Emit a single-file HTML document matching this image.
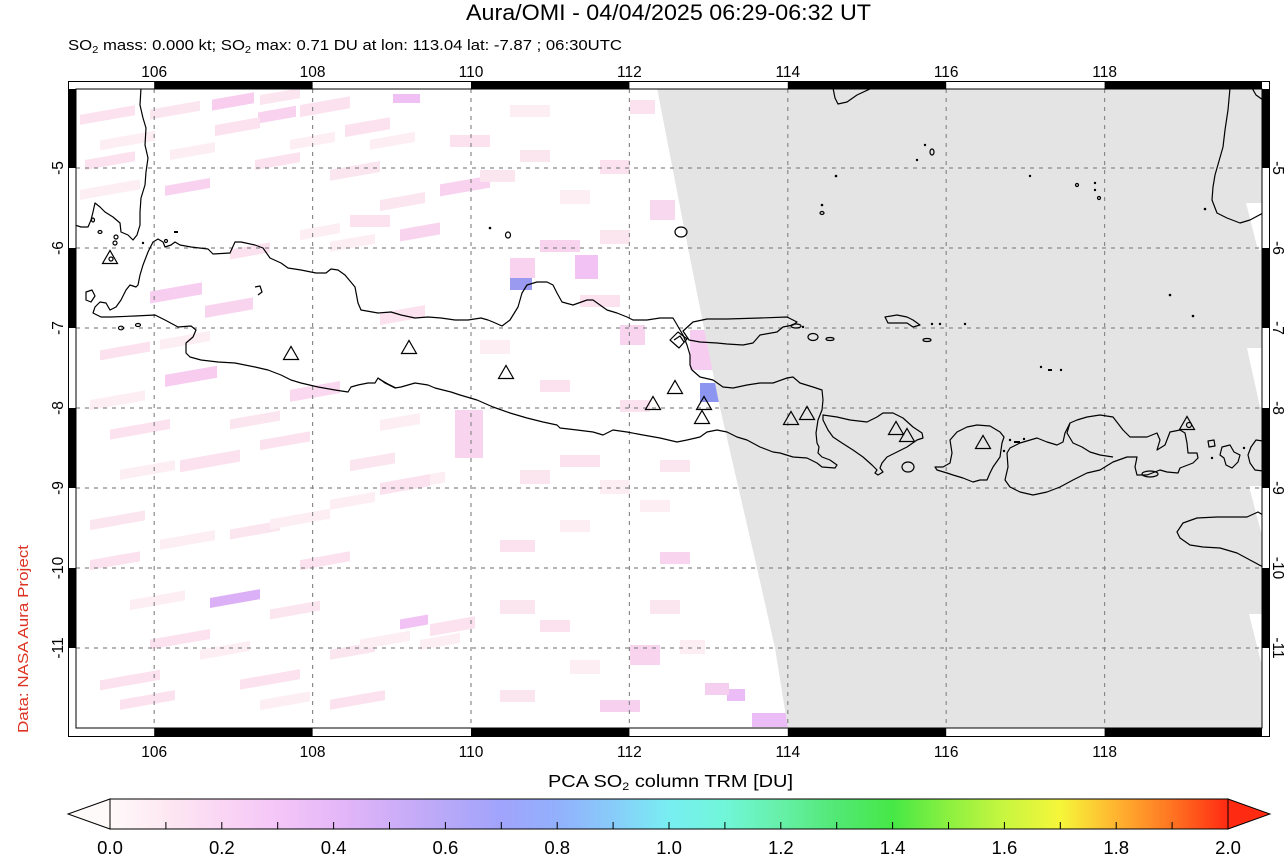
<!DOCTYPE html>
<html>
<head>
<meta charset="utf-8">
<style>
  html,body{margin:0;padding:0;background:#fff;}
  svg{display:block;}
  text{font-family:"Liberation Sans",Arial,Helvetica,sans-serif;}
</style>
</head>
<body>
<svg width="1288" height="855" viewBox="0 0 1288 855" xmlns="http://www.w3.org/2000/svg">
  <defs>
    <clipPath id="plot"><rect x="76" y="89" width="1186" height="639"/></clipPath>
    <linearGradient id="cb" gradientUnits="userSpaceOnUse" x1="110" y1="0" x2="1228" y2="0">
      <stop offset="0" stop-color="#fffafa"/>
      <stop offset="0.05" stop-color="#fde8f2"/>
      <stop offset="0.1" stop-color="#fad6f4"/>
      <stop offset="0.15" stop-color="#f4c6f8"/>
      <stop offset="0.2" stop-color="#e6b8f8"/>
      <stop offset="0.25" stop-color="#d0aef8"/>
      <stop offset="0.3" stop-color="#b8a8f8"/>
      <stop offset="0.35" stop-color="#a0a4fc"/>
      <stop offset="0.4" stop-color="#92b0fc"/>
      <stop offset="0.45" stop-color="#88ccfa"/>
      <stop offset="0.5" stop-color="#78eef2"/>
      <stop offset="0.55" stop-color="#70f6d8"/>
      <stop offset="0.6" stop-color="#66f0a8"/>
      <stop offset="0.65" stop-color="#52e874"/>
      <stop offset="0.7" stop-color="#46e846"/>
      <stop offset="0.75" stop-color="#8cf040"/>
      <stop offset="0.8" stop-color="#c8f640"/>
      <stop offset="0.85" stop-color="#f6f63a"/>
      <stop offset="0.9" stop-color="#ffb430"/>
      <stop offset="0.95" stop-color="#ff7422"/>
      <stop offset="1" stop-color="#ff2a12"/>
    </linearGradient>
  </defs>

  <!-- Frame band -->
  <rect x="68" y="81" width="1202" height="656" fill="#fff"/>
  <g fill="#000">
    <rect x="154.2" y="81" width="158.4" height="8"/>
    <rect x="471" y="81" width="158.4" height="8"/>
    <rect x="787.8" y="81" width="158.4" height="8"/>
    <rect x="1104.6" y="81" width="157.4" height="8"/>
    <rect x="154.2" y="728" width="158.4" height="9"/>
    <rect x="471" y="728" width="158.4" height="9"/>
    <rect x="787.8" y="728" width="158.4" height="9"/>
    <rect x="1104.6" y="728" width="157.4" height="9"/>
    <rect x="68" y="89" width="8" height="79"/>
    <rect x="68" y="248" width="8" height="80"/>
    <rect x="68" y="408" width="8" height="80"/>
    <rect x="68" y="568" width="8" height="80"/>
    <rect x="1262" y="89" width="8" height="79"/>
    <rect x="1262" y="248" width="8" height="80"/>
    <rect x="1262" y="408" width="8" height="80"/>
    <rect x="1262" y="568" width="8" height="80"/>
  </g>

  <!-- Plot area -->
  <g clip-path="url(#plot)">
    <rect x="76" y="89" width="1186" height="639" fill="#fff"/>
    <!-- slanted pink swath pixels (left part) -->
    <g transform="skewY(-10)">
      <!-- faint background texture -->
      <rect x="100" y="158" width="55" height="10" fill="#fdeef3"/>
      <rect x="150" y="136" width="50" height="10" fill="#fbe6ef"/>
      <rect x="170" y="180" width="45" height="10" fill="#fdeef3"/>
      <rect x="260" y="141" width="40" height="10" fill="#fbe6ef"/>
      <rect x="290" y="191" width="45" height="10" fill="#fdeef3"/>
      <rect x="330" y="228" width="50" height="11" fill="#fbe6ef"/>
      <rect x="370" y="205" width="45" height="10" fill="#fdeef3"/>
      <rect x="380" y="267" width="45" height="11" fill="#fbe6ef"/>
      <rect x="300" y="283" width="40" height="10" fill="#fdeef3"/>
      <rect x="90" y="416" width="55" height="10" fill="#fdeef3"/>
      <rect x="230" y="460" width="50" height="10" fill="#fbe6ef"/>
      <rect x="90" y="536" width="55" height="10" fill="#fbe6ef"/>
      <rect x="160" y="568" width="55" height="10" fill="#fdeef3"/>
      <rect x="230" y="570" width="50" height="10" fill="#fbe6ef"/>
      <rect x="130" y="623" width="55" height="10" fill="#fdeef3"/>
      <rect x="270" y="657" width="50" height="10" fill="#fbe6ef"/>
      <rect x="200" y="685" width="50" height="10" fill="#fdeef3"/>
      <rect x="330" y="558" width="45" height="10" fill="#fdeef3"/>
      <rect x="350" y="522" width="45" height="11" fill="#fbe6ef"/>
      <rect x="400" y="550" width="45" height="11" fill="#fdeef3"/>
      <rect x="260" y="746" width="50" height="10" fill="#fdeef3"/>
      <rect x="330" y="708" width="45" height="10" fill="#fbe6ef"/>
      <rect x="420" y="714" width="40" height="10" fill="#fdeef3"/>
      <rect x="380" y="487" width="40" height="11" fill="#fdeef3"/>
      <!-- visible pink pixels -->
      <rect x="80" y="129" width="55" height="10" fill="#fbe2ee"/>
      <rect x="85" y="175" width="50" height="10" fill="#fbe2ee"/>
      <rect x="80" y="204" width="60" height="10" fill="#fdeef3"/>
      <rect x="212" y="137" width="42" height="11" fill="#f8cdee"/>
      <rect x="258" y="158" width="38" height="11" fill="#f8d2ef"/>
      <rect x="215" y="163" width="45" height="11" fill="#fbe2ee"/>
      <rect x="165" y="215" width="45" height="10" fill="#f8d2ef"/>
      <rect x="150" y="318" width="52" height="12" fill="#f7ceef"/>
      <rect x="205" y="342" width="48" height="12" fill="#f8d4ef"/>
      <rect x="165" y="404" width="52" height="12" fill="#f7ccef"/>
      <rect x="100" y="368" width="50" height="10" fill="#fbe2ee"/>
      <rect x="160" y="368" width="50" height="10" fill="#fdeef3"/>
      <rect x="110" y="449" width="60" height="10" fill="#fbe2ee"/>
      <rect x="120" y="491" width="55" height="10" fill="#fdeef3"/>
      <rect x="180" y="492" width="60" height="12" fill="#fbe2ee"/>
      <rect x="210" y="635" width="50" height="10" fill="#dcb0f6"/>
      <rect x="90" y="576" width="50" height="10" fill="#fbe2ee"/>
      <rect x="150" y="666" width="60" height="10" fill="#fbe2ee"/>
      <rect x="100" y="698" width="60" height="10" fill="#fbe2ee"/>
      <rect x="120" y="721" width="55" height="10" fill="#fbe2ee"/>
      <rect x="240" y="722" width="60" height="10" fill="#fbe2ee"/>
      <rect x="270" y="567" width="60" height="10" fill="#fdeef3"/>
      <rect x="230" y="290" width="40" height="10" fill="#fbe2ee"/>
      <rect x="255" y="205" width="45" height="10" fill="#fbe2ee"/>
      <rect x="300" y="158" width="50" height="12" fill="#fbe2ee"/>
      <rect x="345" y="186" width="45" height="12" fill="#fbe2ee"/>
      <rect x="260" y="486" width="50" height="10" fill="#fbe2ee"/>
      <rect x="300" y="613" width="50" height="10" fill="#fbe2ee"/>
      <rect x="330" y="758" width="55" height="10" fill="#fbe2ee"/>
      <rect x="360" y="703" width="50" height="10" fill="#fdeef3"/>
      <rect x="290" y="441" width="50" height="12" fill="#f9d8f0"/>
      <rect x="330" y="300" width="45" height="10" fill="#fdeef3"/>
      <rect x="380" y="380" width="45" height="12" fill="#fbe2ee"/>
      <rect x="400" y="300" width="40" height="12" fill="#f8d4ef"/>
      <rect x="440" y="262" width="50" height="12" fill="#f8d2ef"/>
      <rect x="430" y="700" width="45" height="12" fill="#fbe2ee"/>
      <rect x="400" y="690" width="28" height="10" fill="#f2c2f4"/>
      <rect x="380" y="550" width="50" height="12" fill="#fbe2ee"/>
    </g>
    <!-- middle blocks -->
    <rect x="480" y="170" width="35" height="12" fill="#fbe6ef"/>
    <rect x="560" y="190" width="30" height="14" fill="#fdeef3"/>
    <rect x="520" y="150" width="30" height="12" fill="#fbe6ef"/>
    <rect x="600" y="230" width="30" height="14" fill="#fbe6ef"/>
    <rect x="480" y="340" width="30" height="14" fill="#fdeef3"/>
    <rect x="520" y="470" width="30" height="14" fill="#fbe6ef"/>
    <rect x="600" y="480" width="30" height="14" fill="#fdeef3"/>
    <rect x="500" y="600" width="35" height="14" fill="#fbe6ef"/>
    <rect x="570" y="660" width="30" height="14" fill="#fdeef3"/>
    <rect x="650" y="600" width="30" height="14" fill="#fbe6ef"/>
    <rect x="680" y="640" width="25" height="14" fill="#fdeef3"/>
    <rect x="500" y="690" width="35" height="12" fill="#fbe6ef"/>
    <rect x="640" y="500" width="30" height="12" fill="#fdeef3"/>
    <rect x="660" y="460" width="30" height="12" fill="#fbe6ef"/>
    <rect x="560" y="520" width="30" height="12" fill="#fdeef3"/>
    <rect x="393" y="94" width="27" height="9" fill="#f0c0f4"/>
    <rect x="350" y="215" width="40" height="12" fill="#fbe2ee"/>
    <rect x="450" y="135" width="40" height="12" fill="#fbe2ee"/>
    <rect x="510" y="105" width="40" height="12" fill="#fdeef3"/>
    <rect x="540" y="240" width="40" height="12" fill="#f8d4ef"/>
    <rect x="575" y="255" width="23" height="24" fill="#f2c2f4"/>
    <rect x="510" y="258" width="25" height="20" fill="#f8d2ef"/>
    <rect x="510" y="278" width="22" height="12" fill="#9a9af0"/>
    <rect x="455" y="410" width="28" height="48" fill="#f8d4ef"/>
    <rect x="580" y="295" width="40" height="12" fill="#fbe2ee"/>
    <rect x="620" y="325" width="25" height="20" fill="#f8d4ef"/>
    <rect x="560" y="455" width="40" height="12" fill="#fbe2ee"/>
    <rect x="600" y="700" width="40" height="12" fill="#f8d0ef"/>
    <rect x="630" y="645" width="30" height="20" fill="#f8d4ef"/>
    <rect x="752" y="713" width="36" height="14" fill="#ecbcf6"/>
    <rect x="727" y="689" width="18" height="12" fill="#ecbcf6"/>
    <rect x="705" y="683" width="24" height="12" fill="#f6cef0"/>
    <rect x="660" y="552" width="30" height="12" fill="#f8d4ef"/>
    <rect x="690" y="330" width="25" height="40" fill="#f6ccf0"/>
    <rect x="700" y="383" width="20" height="19" fill="#8c96f0"/>
    <rect x="630" y="100" width="25" height="14" fill="#fbe2ee"/>
    <rect x="600" y="160" width="30" height="14" fill="#fbe2ee"/>
    <rect x="650" y="200" width="25" height="20" fill="#f8d8ef"/>
    <rect x="540" y="380" width="30" height="12" fill="#fbe2ee"/>
    <rect x="620" y="400" width="30" height="12" fill="#fbe2ee"/>
    <rect x="500" y="540" width="35" height="12" fill="#fbe2ee"/>
    <rect x="540" y="620" width="30" height="12" fill="#fbe2ee"/>

    <!-- no-data grey region -->
    <polygon points="657,88 1263,88 1263,729 788,729 775,648 757,568 720,408 688,248" fill="#e4e4e4"/>
    <g fill="#fff">
      <polygon points="1246,203 1263,203 1263,250 1258,250"/>
      <polygon points="1247,348 1263,348 1263,407 1260,407"/>
      <polygon points="1249,486 1263,486 1263,532 1261,532"/>
      <polygon points="1249,614 1263,614 1263,662 1261,662"/>
    </g>

    <!-- gridlines -->
    <g stroke="#8a8a8a" stroke-width="1.2" stroke-dasharray="4 5" fill="none">
      <line x1="154.2" y1="89" x2="154.2" y2="728"/>
      <line x1="312.6" y1="89" x2="312.6" y2="728"/>
      <line x1="471" y1="89" x2="471" y2="728"/>
      <line x1="629.4" y1="89" x2="629.4" y2="728"/>
      <line x1="787.8" y1="89" x2="787.8" y2="728"/>
      <line x1="946.2" y1="89" x2="946.2" y2="728"/>
      <line x1="1104.6" y1="89" x2="1104.6" y2="728"/>
      <line x1="76" y1="168" x2="1262" y2="168"/>
      <line x1="76" y1="248" x2="1262" y2="248"/>
      <line x1="76" y1="328" x2="1262" y2="328"/>
      <line x1="76" y1="408" x2="1262" y2="408"/>
      <line x1="76" y1="488" x2="1262" y2="488"/>
      <line x1="76" y1="568" x2="1262" y2="568"/>
      <line x1="76" y1="648" x2="1262" y2="648"/>
    </g>

    <!-- coastlines -->
    <g stroke="#000" stroke-width="1.2" fill="none" stroke-linejoin="round">
      <!-- Sumatra -->
      <path d="M141,88 L140,105 L143,118 L146,128 L145,145 L148,158 L146,172 L145,185 L141,198 L140,212 L140,225 L137,235 L133,240 L128,235 L121,232 L120,223 L113,217 L105,212 L100,207 L95,203 L93,212 L91,220 L88,227 L81,227 L75,225"/>
      <!-- Java -->
      <path d="M143,265 L148,252 L153,242 L158,239 L163,242 L165,247 L171,245 L175,242 L180,245 L191,247 L208,249 L213,254 L230,253 L235,242 L241,242 L255,245 L263,248 L270,258 L281,263 L288,268 L301,270 L316,273 L326,273 L331,269 L338,270 L345,275 L355,287 L358,303 L361,310 L378,313 L391,312 L401,315 L415,318 L428,317 L441,318 L455,320 L468,320 L481,318 L488,320 L493,322 L502,326 L510,320 L518,307 L522,293 L527,285 L537,282 L547,282 L553,285 L557,293 L562,302 L573,305 L587,300 L593,300 L600,305 L607,310 L617,313 L627,317 L633,320 L647,320 L660,318 L673,318 L676,323 L680,330 L683,335 L687,345 L690,355 L690,365 L692,370 L700,377 L713,380 L723,387 L733,388 L747,385 L760,383 L773,383 L787,378 L793,377 L800,383 L813,387 L822,390 L823,400 L822,410 L818,420 L816,433 L817,443 L819,447 L818,453 L822,457 L830,460 L837,465 L835,468 L822,467 L817,463 L807,458 L793,457 L780,453 L773,452 L760,447 L747,440 L737,437 L727,432 L717,430 L707,432 L700,437 L687,440 L677,442 L660,438 L643,435 L627,432 L613,430 L603,435 L593,432 L577,430 L560,428 L557,425 L543,422 L527,418 L510,413 L493,407 L477,400 L460,395 L451,392 L435,388 L428,385 L415,383 L401,387 L395,388 L385,383 L381,380 L378,378 L375,383 L368,383 L358,385 L351,387 L348,392 L335,390 L318,387 L301,383 L291,380 L281,375 L268,370 L255,367 L235,363 L218,362 L201,360 L190,357 L186,353 L186,343 L193,337 L196,330 L191,326 L178,327 L165,320 L155,315 L135,316 L111,317 L101,317 L93,313 L95,307 L100,302 L106,303 L110,310 L116,307 L121,300 L126,290 L130,285 L136,287 L138,285 L140,275 Z"/>
      <path d="M379,379 L388,384 L396,388"/>
      <!-- Madura -->
      <path d="M683,331 L693,322 L707,319 L727,319 L760,318 L787,317 L797,322 L793,325 L783,327 L777,332 L760,335 L753,343 L743,345 L727,344 L717,343 L700,342 L689,340 Z"/>
      <path d="M670,340 L678,332 L687,339 L679,348 Z"/>
      <path d="M674,340 L680,336 L684,342"/>
      <!-- Bali -->
      <path d="M823,415 L837,417 L850,420 L867,422 L877,417 L883,413 L893,413 L903,418 L913,427 L922,433 L923,438 L917,440 L907,447 L897,452 L887,457 L882,463 L880,468 L883,472 L878,475 L875,473 L877,470 L872,465 L863,457 L853,450 L842,443 L833,437 L828,430 L823,420 Z"/>
      <ellipse cx="908" cy="467" rx="6" ry="5"/>
      <!-- Lombok -->
      <path d="M950,440 L957,432 L967,427 L977,425 L990,426 L1000,432 L1004,437 L1002,443 L1000,457 L993,467 L990,473 L987,480 L980,480 L973,482 L963,478 L953,475 L947,473 L937,470 L935,467 L943,467 L950,463 L952,453 Z"/>
      <!-- Sumbawa -->
      <path d="M1007,453 L1010,448 L1020,443 L1037,438 L1047,442 L1057,445 L1063,442 L1065,433 L1070,423 L1077,420 L1087,417 L1100,415 L1113,417 L1123,430 L1130,437 L1147,437 L1157,433 L1160,440 L1157,450 L1165,445 L1170,432 L1180,430 L1185,433 L1187,443 L1188,453 L1197,453 L1198,458 L1193,463 L1180,468 L1178,473 L1167,472 L1160,470 L1147,475 L1137,475 L1135,467 L1137,457 L1127,457 L1113,462 L1100,470 L1087,473 L1073,480 L1060,487 L1047,492 L1033,495 L1020,492 L1010,487 L1005,480 L1008,467 Z"/>
      <path d="M1070,423 L1067,433 L1073,443 L1082,447 L1090,452 L1100,455 L1113,457"/>
      <ellipse cx="1150" cy="474" rx="8" ry="3"/>
      <!-- Komodo / Flores -->
      <path d="M1208,441 L1214,440 L1215,446 L1209,447 Z"/>
      <path d="M1222,447 L1230,445 L1234,452 L1240,455 L1238,462 L1232,468 L1226,465 L1224,458 L1220,455 Z"/>
      <path d="M1263,441 L1256,440 L1251,447 L1248,455 L1250,463 L1255,470 L1263,471"/>
      <!-- Sumba -->
      <path d="M1263,515 L1258,512 L1247,517 L1233,517 L1217,517 L1197,518 L1183,523 L1177,532 L1180,538 L1190,545 L1203,547 L1220,548 L1237,553 L1250,560 L1263,567"/>
      <!-- Borneo -->
      <path d="M1230,88 L1228,110 L1225,130 L1223,147 L1215,175 L1213,187 L1212,200 L1217,213 L1227,218 L1240,223 L1250,220 L1263,213"/>
      <path d="M1252,88 L1256,95 L1263,100"/>
      <path d="M833,88 L835,98 L838,104 L847,102 L857,95 L872,88"/>
      <!-- small islands -->
      <ellipse cx="681" cy="232" rx="6" ry="5"/>
      <ellipse cx="508" cy="235" rx="2.5" ry="3"/>
      <path d="M255,287 L260,286 L262,292 L258,295"/>
      <ellipse cx="116" cy="237" rx="2" ry="2"/>
      <ellipse cx="115" cy="243" rx="2" ry="2"/>
      <ellipse cx="100" cy="232" rx="2" ry="1.5"/>
      <ellipse cx="93" cy="220" rx="1.5" ry="2"/>
      <ellipse cx="166" cy="241" rx="1.5" ry="1.5"/>
      <ellipse cx="121" cy="328" rx="2.5" ry="1.8"/>
      <ellipse cx="138" cy="325" rx="2.5" ry="1.5"/>
      <path d="M86,292 L92,290 L95,296 L91,302 L86,300 Z"/>
      <ellipse cx="932" cy="152" rx="2" ry="3"/>
      <ellipse cx="822" cy="213" rx="2" ry="1.5"/>
      <ellipse cx="1077" cy="185" rx="1.5" ry="1.5"/>
      <ellipse cx="1099" cy="198" rx="1.5" ry="1.5"/>
      <path d="M885,317 L897,315 L907,317 L913,320 L920,325 L913,327 L907,323 L897,323 L888,323 Z"/>
      <ellipse cx="927" cy="340" rx="4" ry="1.5"/>
      <ellipse cx="813" cy="337" rx="5" ry="3.5"/>
      <ellipse cx="830" cy="339" rx="4" ry="1.5"/>
      <ellipse cx="796" cy="326" rx="5" ry="2"/>
    </g>
    <g fill="#000">
      <circle cx="490" cy="228" r="1.3"/>
      <circle cx="143" cy="243" r="1.2"/>
      <rect x="174" y="231" width="4" height="2"/>
      <circle cx="836" cy="176" r="1.3"/>
      <circle cx="822" cy="205" r="1.3"/>
      <circle cx="917" cy="160" r="1.2"/>
      <circle cx="925" cy="145" r="1.2"/>
      <circle cx="1030" cy="176" r="1.2"/>
      <circle cx="1095" cy="183" r="1.2"/>
      <circle cx="1095" cy="190" r="1.2"/>
      <circle cx="1205" cy="209" r="1.3"/>
      <circle cx="1170" cy="295" r="1.3"/>
      <circle cx="1193" cy="316" r="1.3"/>
      <circle cx="1041" cy="367" r="1.2"/>
      <rect x="1048" y="369" width="4" height="2"/>
      <circle cx="1061" cy="370" r="1.2"/>
      <circle cx="803" cy="327" r="1.2"/>
      <circle cx="932" cy="324" r="1.2"/>
      <circle cx="940" cy="324" r="1.2"/>
      <circle cx="965" cy="324" r="1.2"/>
      <circle cx="1010" cy="440" r="1.2"/>
      <rect x="1014" y="441" width="6" height="2"/>
      <circle cx="1024" cy="439" r="1.2"/>
      <circle cx="1004" cy="451" r="1.2"/>
      <circle cx="1212" cy="458" r="1.2"/>
      <circle cx="1244" cy="448" r="1.2"/>
    </g>

    <!-- volcano triangles -->
    <g stroke="#000" stroke-width="1.2" fill="none">
      <polygon points="102.5,263.5 117.5,263.5 110,250.5"/>
      <circle cx="111" cy="259" r="2"/>
      <polygon points="283.5,359.5 298.5,359.5 291,346.5"/>
      <polygon points="401.5,353.5 416.5,353.5 409,340.5"/>
      <polygon points="498.5,378.5 513.5,378.5 506,365.5"/>
      <polygon points="645.5,409.5 660.5,409.5 653,396.5"/>
      <polygon points="667.5,393.5 682.5,393.5 675,380.5"/>
      <polygon points="696.5,409.5 711.5,409.5 704,396.5"/>
      <polygon points="694.5,423.5 709.5,423.5 702,410.5"/>
      <polygon points="783.5,424.5 798.5,424.5 791,411.5"/>
      <polygon points="799.5,419.5 814.5,419.5 807,406.5"/>
      <polygon points="888.5,434.5 903.5,434.5 896,421.5"/>
      <polygon points="899.5,441.5 914.5,441.5 907,428.5"/>
      <polygon points="975.5,448.5 990.5,448.5 983,435.5"/>
      <polygon points="1179.5,429.5 1194.5,429.5 1187,416.5"/>
      <circle cx="1189" cy="425" r="2.5"/>
    </g>
  </g>

  <!-- frame outlines -->
  <rect x="68.5" y="81.5" width="1201" height="655" fill="none" stroke="#000" stroke-width="1"/>
  <rect x="76" y="89" width="1186" height="639" fill="none" stroke="#000" stroke-width="1"/>

  <!-- Title -->
  <text x="466" y="20" font-size="22" textLength="405" lengthAdjust="spacingAndGlyphs" fill="#000">Aura/OMI - 04/04/2025 06:29-06:32 UT</text>
  <text x="68" y="50" font-size="15" textLength="554" lengthAdjust="spacingAndGlyphs" fill="#000">SO<tspan font-size="10" dy="3">2</tspan><tspan dy="-3"> mass: 0.000 kt; SO</tspan><tspan font-size="10" dy="3">2</tspan><tspan dy="-3"> max: 0.71 DU at lon: 113.04 lat: -7.87 ; 06:30UTC</tspan></text>

  <!-- lon tick labels -->
  <g font-size="15.5" text-anchor="middle" fill="#000">
    <text x="154.2" y="77">106</text>
    <text x="312.6" y="77">108</text>
    <text x="471" y="77">110</text>
    <text x="629.4" y="77">112</text>
    <text x="787.8" y="77">114</text>
    <text x="946.2" y="77">116</text>
    <text x="1104.6" y="77">118</text>
    <text x="154.2" y="757">106</text>
    <text x="312.6" y="757">108</text>
    <text x="471" y="757">110</text>
    <text x="629.4" y="757">112</text>
    <text x="787.8" y="757">114</text>
    <text x="946.2" y="757">116</text>
    <text x="1104.6" y="757">118</text>
  </g>
  <!-- lat tick labels -->
  <g font-size="15.5" text-anchor="middle" fill="#000">
    <text transform="translate(63,168) rotate(-90)">-5</text>
    <text transform="translate(63,248) rotate(-90)">-6</text>
    <text transform="translate(63,328) rotate(-90)">-7</text>
    <text transform="translate(63,408) rotate(-90)">-8</text>
    <text transform="translate(63,488) rotate(-90)">-9</text>
    <text transform="translate(63,568) rotate(-90)">-10</text>
    <text transform="translate(63,648) rotate(-90)">-11</text>
    <text transform="translate(1273,168) rotate(90)">-5</text>
    <text transform="translate(1273,248) rotate(90)">-6</text>
    <text transform="translate(1273,328) rotate(90)">-7</text>
    <text transform="translate(1273,408) rotate(90)">-8</text>
    <text transform="translate(1273,488) rotate(90)">-9</text>
    <text transform="translate(1273,568) rotate(90)">-10</text>
    <text transform="translate(1273,648) rotate(90)">-11</text>
  </g>

  <!-- Data credit -->
  <text transform="translate(28,639) rotate(-90)" font-size="15" text-anchor="middle" textLength="188" lengthAdjust="spacingAndGlyphs" fill="#dd3322">Data: NASA Aura Project</text>

  <!-- colorbar -->
  <text x="548" y="787" font-size="17.5" textLength="245" lengthAdjust="spacingAndGlyphs" fill="#000">PCA SO<tspan font-size="11" dy="3">2</tspan><tspan dy="-3"> column TRM [DU]</tspan></text>
  <polygon points="110,799 68,814 110,829" fill="#fffafa" stroke="#000" stroke-width="1"/>
  <polygon points="1228,799 1270,814 1228,829" fill="#ff2a12" stroke="#000" stroke-width="1"/>
  <rect x="110" y="799" width="1118" height="30" fill="url(#cb)" stroke="#000" stroke-width="1"/>
  <g stroke="#000" stroke-width="1">
    <line x1="165.9" y1="829" x2="165.9" y2="822"/>
    <line x1="221.8" y1="829" x2="221.8" y2="822"/>
    <line x1="277.7" y1="829" x2="277.7" y2="822"/>
    <line x1="333.6" y1="829" x2="333.6" y2="822"/>
    <line x1="389.5" y1="829" x2="389.5" y2="822"/>
    <line x1="445.4" y1="829" x2="445.4" y2="822"/>
    <line x1="501.3" y1="829" x2="501.3" y2="822"/>
    <line x1="557.2" y1="829" x2="557.2" y2="822"/>
    <line x1="613.1" y1="829" x2="613.1" y2="822"/>
    <line x1="669" y1="829" x2="669" y2="822"/>
    <line x1="724.9" y1="829" x2="724.9" y2="822"/>
    <line x1="780.8" y1="829" x2="780.8" y2="822"/>
    <line x1="836.7" y1="829" x2="836.7" y2="822"/>
    <line x1="892.6" y1="829" x2="892.6" y2="822"/>
    <line x1="948.5" y1="829" x2="948.5" y2="822"/>
    <line x1="1004.4" y1="829" x2="1004.4" y2="822"/>
    <line x1="1060.3" y1="829" x2="1060.3" y2="822"/>
    <line x1="1116.2" y1="829" x2="1116.2" y2="822"/>
    <line x1="1172.1" y1="829" x2="1172.1" y2="822"/>
  </g>
  <g font-size="18.5" text-anchor="middle" fill="#000">
    <text x="110" y="854">0.0</text>
    <text x="221.8" y="854">0.2</text>
    <text x="333.6" y="854">0.4</text>
    <text x="445.4" y="854">0.6</text>
    <text x="557.2" y="854">0.8</text>
    <text x="669" y="854">1.0</text>
    <text x="780.8" y="854">1.2</text>
    <text x="892.6" y="854">1.4</text>
    <text x="1004.4" y="854">1.6</text>
    <text x="1116.2" y="854">1.8</text>
    <text x="1228" y="854">2.0</text>
  </g>
</svg>
</body>
</html>
